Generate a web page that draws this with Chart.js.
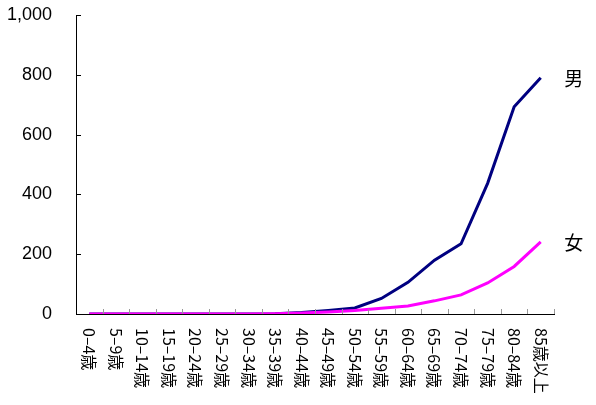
<!DOCTYPE html>
<html><head><meta charset="utf-8">
<script src="https://cdn.jsdelivr.net/npm/chart.js@4/dist/chart.umd.min.js"></script>
<style>html,body{margin:0;padding:0;background:#fff}#wrap{width:596px;height:405px;position:relative}</style>
</head><body><div id="wrap"><canvas id="c" width="596" height="405"></canvas></div>
<script>
const categories = ["0–4歳","5–9歳","10–14歳","15–19歳","20–24歳","25–29歳","30–34歳","35–39歳","40–44歳","45–49歳","50–54歳","55–59歳","60–64歳","65–69歳","70–74歳","75–79歳","80–84歳","85歳以上"];
const maleValues   = [0,0,0,0,0,0,0,1,5,12,20,52,106,180,235,437,693,790];
const femaleValues = [0,0,0,0,0,0,0,1,3,7,12,19,27,44,64,104,159,241];
const seriesNames = ["男","女"];
const yTickValues = [0,200,400,600,800,1000];

const jpFont = '"Noto Sans CJK JP", sans-serif';

const customPlugin = {
  id: 'custom',
  afterDraw(chart) {
    const ctx = chart.ctx;
    const xs = chart.scales.x, ys = chart.scales.y;
    const area = chart.chartArea;
    ctx.save();
    ctx.strokeStyle = '#000';
    ctx.lineWidth = 1;
    yTickValues.forEach(v => {
      const y = Math.round(ys.getPixelForValue(v)) + 0.5;
      ctx.beginPath(); ctx.moveTo(area.left, y); ctx.lineTo(area.left + 5, y); ctx.stroke();
    });
    ctx.strokeStyle = '#999';
    const n = categories.length;
    const half = (xs.getPixelForValue(1) - xs.getPixelForValue(0)) / 2;
    for (let i = 0; i < n; i++) {
      const x = Math.round(xs.getPixelForValue(i) + half) + 0.5;
      ctx.beginPath(); ctx.moveTo(x, area.bottom - 5); ctx.lineTo(x, area.bottom); ctx.stroke();
    }
    ctx.fillStyle = '#000';
    ctx.font = '16px ' + jpFont;
    ctx.textAlign = 'left';
    ctx.textBaseline = 'middle';
    categories.forEach((c, i) => {
      const x = xs.getPixelForValue(i);
      ctx.save();
      ctx.translate(x, area.bottom + 14);
      ctx.rotate(Math.PI / 2);
      ctx.fillText(c, 0, 0);
      ctx.restore();
    });
    ctx.font = '19px ' + jpFont;
    ctx.textAlign = 'center';
    ctx.textBaseline = 'middle';
    chart.data.datasets.forEach((ds, di) => {
      const meta = chart.getDatasetMeta(di);
      const pt = meta.data[meta.data.length - 1];
      ctx.fillText(ds.label, pt.x + 33, pt.y + 1);
    });
    ctx.restore();
  }
};

new Chart(document.getElementById('c'), {
  type: 'line',
  data: {
    labels: categories,
    datasets: [
      { label: seriesNames[1], data: femaleValues, borderColor: '#FF00FF', backgroundColor: '#FF00FF', borderWidth: 3, pointRadius: 0, tension: 0, order: 0 },
      { label: seriesNames[0], data: maleValues, borderColor: '#000080', backgroundColor: '#000080', borderWidth: 3, pointRadius: 0, tension: 0, order: 1 }
    ]
  },
  options: {
    responsive: false,
    animation: false,
    devicePixelRatio: 1,
    layout: { padding: { left: 0, right: 42, top: 15, bottom: 0 } },
    plugins: { legend: { display: false }, tooltip: { enabled: false } },
    scales: {
      x: {
        type: 'category',
        offset: true,
        grid: { display: false, drawTicks: false },
        border: { display: true, color: '#000', width: 1 },
        ticks: { display: false },
        afterFit(scale) { scale.height = 91; scale.paddingLeft = 0; scale.paddingRight = 0; }
      },
      y: {
        min: 0, max: 1000,
        grid: { display: false, drawTicks: false },
        border: { display: true, color: '#000', width: 1 },
        ticks: {
          stepSize: 200,
          padding: 24,
          color: '#000',
          font: { family: '"Liberation Sans", Arial, sans-serif', size: 18 },
          callback: v => v.toLocaleString('en-US')
        },
        afterFit(scale) { scale.width = 76; scale.paddingTop = 15; scale.paddingBottom = 0; }
      }
    }
  },
  plugins: [customPlugin]
});
</script>
</body></html>
